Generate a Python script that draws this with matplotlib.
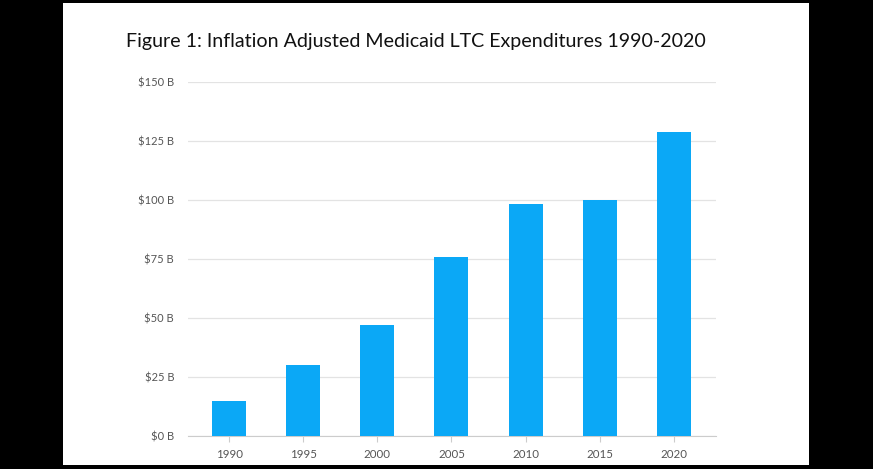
import matplotlib.pyplot as plt
from matplotlib.patches import Rectangle

years = ['1990', '1995', '2000', '2005', '2010', '2015', '2020']
spending = [15, 30, 47, 76, 98.5, 100, 129]  # billions of dollars, inflation adjusted
y_ticks = [0, 25, 50, 75, 100, 125, 150]
y_labels = ['\\$%d B' % v for v in y_ticks]

plt.rcParams['font.family'] = ['Lato', 'DejaVu Sans']

fig = plt.figure(figsize=(8.73, 4.69), dpi=100)
fig.patch.set_facecolor('black')
fig.patches.append(Rectangle((63 / 873, 4 / 469), 746 / 873, 462 / 469,
                             transform=fig.transFigure, facecolor='white',
                             edgecolor='none', zorder=-10))

ax = fig.add_axes([188 / 873, 33 / 469, 528 / 873, 354 / 469])
ax.set_facecolor('none')
ax.set_zorder(5)

x = range(len(years))
ax.bar(x, spending, width=0.46, color='#0ba8f6', zorder=3)

ax.set_xlim(-0.555, 6.57)
ax.set_ylim(0, 150)
ax.set_xticks(list(x))
ax.set_xticklabels(years)
ax.set_yticks(y_ticks)
ax.set_yticklabels(y_labels)

ax.grid(axis='y', color='#e3e3e3', linewidth=0.9, zorder=0)
for side in ['top', 'right', 'left']:
    ax.spines[side].set_visible(False)
ax.spines['bottom'].set_color('#cccccc')
ax.tick_params(axis='y', length=0, pad=10, labelsize=8, labelcolor='#555555')
ax.tick_params(axis='x', length=4, color='#cccccc', pad=5, labelsize=8.3, labelcolor='#555555')

fig.text(416 / 873, 1 - 41 / 469, 'Figure 1: Inflation Adjusted Medicaid LTC Expenditures 1990-2020',
         ha='center', va='center', fontsize=14.1, color='#111111', zorder=6)

fig.savefig('out.png', dpi=100, facecolor=fig.get_facecolor())
